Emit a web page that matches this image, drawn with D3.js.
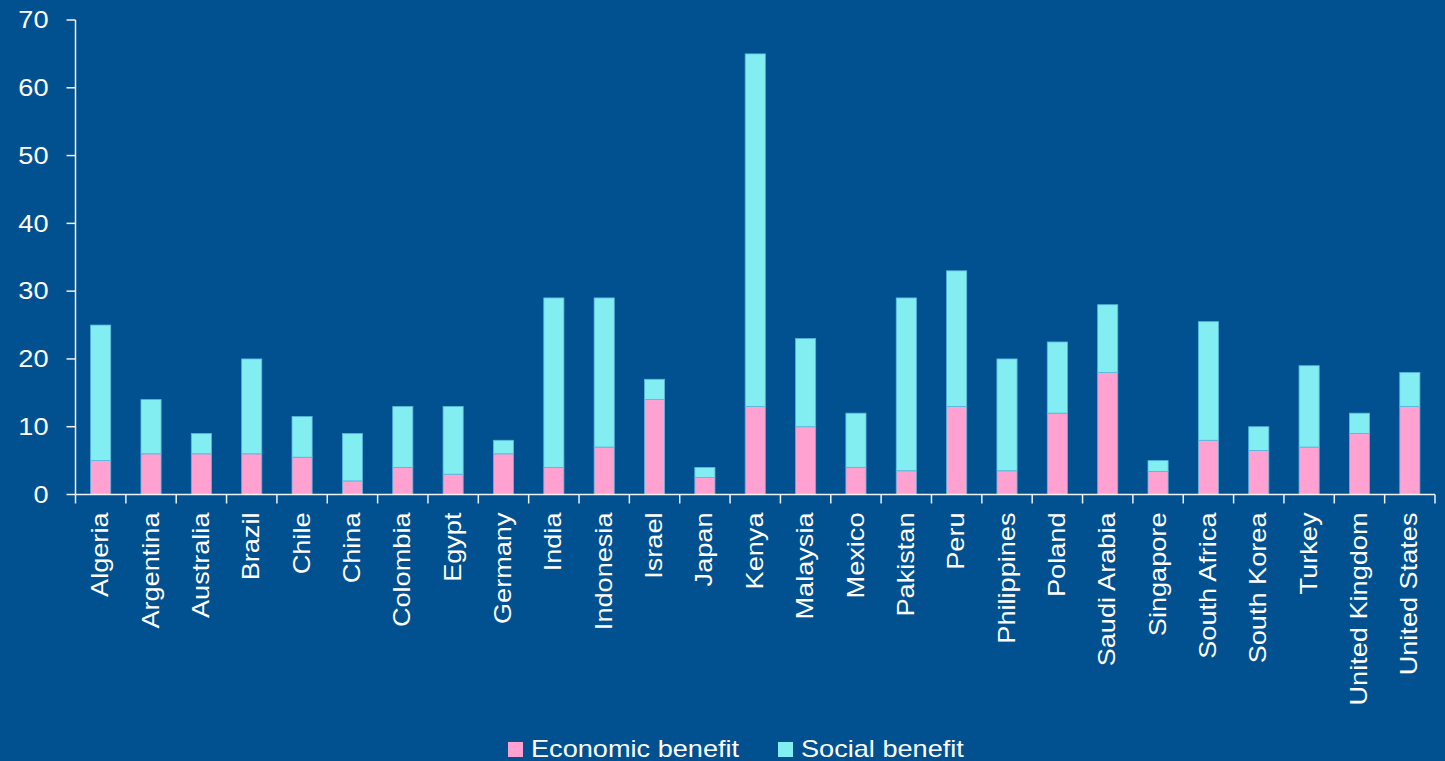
<!DOCTYPE html>
<html>
<head>
<meta charset="utf-8">
<script src="https://cdn.jsdelivr.net/npm/d3@7"></script>
<style>
  html, body { margin: 0; padding: 0; background: #01508f; }
  svg { display: block; }
  text { font-family: "Liberation Sans", Arial, sans-serif; fill: #ffffff; }
</style>
</head>
<body>
<svg id="chart" width="1445" height="761"></svg>
<script>
const categories = ["Algeria","Argentina","Australia","Brazil","Chile","China","Colombia","Egypt","Germany","India","Indonesia","Israel","Japan","Kenya","Malaysia","Mexico","Pakistan","Peru","Philippines","Poland","Saudi Arabia","Singapore","South Africa","South Korea","Turkey","United Kingdom","United States"];
const economicBenefit = [5,6,6,6,5.5,2,4,3,6,4,7,14,2.5,13,10,4,3.5,13,3.5,12,18,3.4,8,6.5,7,9,13];
const socialBenefit   = [20,8,3,14,6,7,9,10,2,25,22,3,1.5,52,13,8,25.5,20,16.5,10.5,10,1.6,17.5,3.5,12,3,5];
const yTicks = [0,10,20,30,40,50,60,70];
const seriesNames = ["Economic benefit","Social benefit"];
const seriesColors = ["#ffa1d1","#82eef2"];

const svg = d3.select("#chart");
const W = 1445, H = 761;
const mLeft = 75.5, mRight = 1435, mTop = 20, mBottom = 494.5;
const FS = 23, SX = 1.18;

svg.append("rect").attr("width", W).attr("height", H).attr("fill", "#01508f");

const x = d3.scaleBand().domain(categories).range([mLeft, mRight]).paddingInner(0.6).paddingOuter(0.3);
const y = d3.scaleLinear().domain([0, 70]).range([mBottom, mTop]);

const data = categories.map((c, i) => ({ cat: c, econ: economicBenefit[i], social: socialBenefit[i] }));
const stack = d3.stack().keys(["econ", "social"])(data);

svg.append("g").selectAll("g").data(stack).join("g")
  .attr("fill", (d, i) => seriesColors[i])
  .selectAll("rect").data(d => d).join("rect")
  .attr("x", d => x(d.data.cat))
  .attr("width", x.bandwidth())
  .attr("y", d => y(d[1]))
  .attr("height", d => y(d[0]) - y(d[1]))
  .attr("stroke", "#5cb6dc")
  .attr("stroke-width", 0.8);

const axisColor = "#eef3f8";
const ax = svg.append("g").attr("stroke", axisColor).attr("stroke-width", 1.5).attr("fill", "none");
ax.append("line").attr("x1", mLeft).attr("x2", mLeft).attr("y1", y(70)).attr("y2", mBottom);
ax.selectAll("line.yt").data(yTicks).join("line").attr("class", "yt")
  .attr("x1", mLeft - 9).attr("x2", mLeft).attr("y1", d => y(d)).attr("y2", d => y(d));
ax.append("line").attr("x1", mLeft).attr("x2", mRight).attr("y1", mBottom).attr("y2", mBottom);
const step = x.step();
const boundaries = d3.range(categories.length + 1).map(i => mLeft + i * step);
ax.selectAll("line.xt").data(boundaries).join("line").attr("class", "xt")
  .attr("x1", d => d).attr("x2", d => d).attr("y1", mBottom).attr("y2", mBottom + 9);

svg.append("g").selectAll("text").data(yTicks).join("text")
  .attr("transform", d => `translate(${mLeft - 27},${y(d)}) scale(${SX},1)`)
  .attr("text-anchor", "end").attr("dy", "0.36em")
  .attr("font-size", FS)
  .text(d => d);

svg.append("g").selectAll("text").data(categories).join("text")
  .attr("transform", d => `translate(${x(d) + x.bandwidth() / 2},${mBottom + 18}) rotate(-90) scale(${SX},1)`)
  .attr("text-anchor", "end").attr("dy", "0.33em")
  .attr("font-size", FS)
  .text(d => d);

const legendX = [508, 778];
const lg = svg.append("g");
seriesNames.forEach((n, i) => {
  lg.append("rect").attr("x", legendX[i]).attr("y", 742).attr("width", 15).attr("height", 15).attr("fill", seriesColors[i]);
  lg.append("text").attr("transform", `translate(${legendX[i] + 23},757) scale(${SX},1)`)
    .attr("font-size", FS).text(n);
});
</script>
</body>
</html>
